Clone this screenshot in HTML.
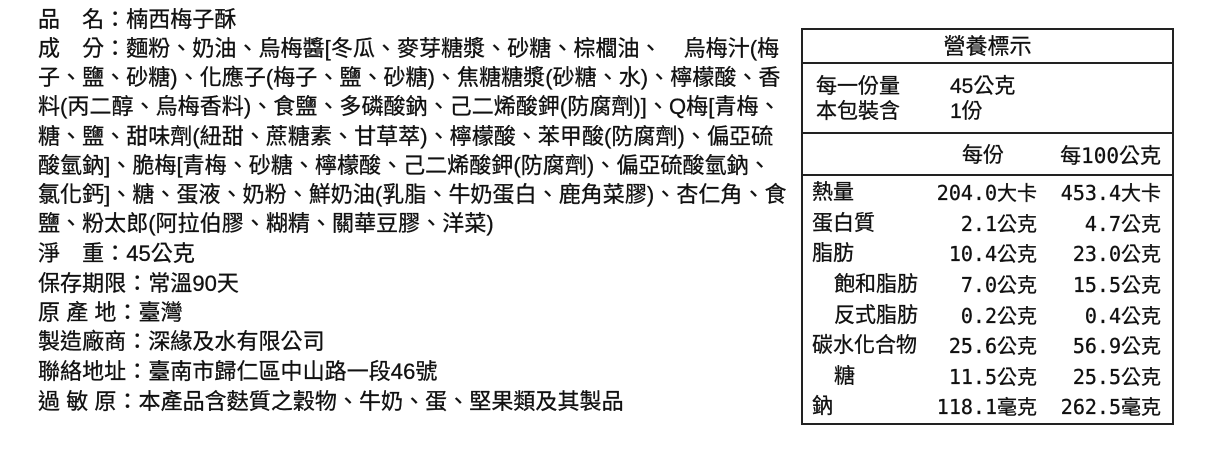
<!DOCTYPE html>
<html><head><meta charset="utf-8"><style>
body{margin:0;width:1211px;height:453px;background:#fff;position:relative;overflow:hidden;font-family:"Liberation Sans","Noto Sans CJK TC",sans-serif;color:#111;-webkit-text-stroke:0.3px #111}
.l{position:absolute;left:38px;font-size:22px;line-height:26px;white-space:nowrap;letter-spacing:0.05px}
.box{position:absolute;left:801px;top:28px;width:369px;height:393px;border:2px solid #222}
.h{position:absolute;left:801px;width:373px;height:2px;background:#222}
.t{position:absolute;font-size:21px;line-height:26px;white-space:nowrap}
.m{font-family:"DejaVu Sans Mono","Noto Sans CJK TC",monospace;font-size:20px}
.r1{position:absolute;right:174px;text-align:right}
.r2{position:absolute;right:50px;text-align:right}
</style></head><body>
<div class="l" style="top:7px">品　名：楠西梅子酥</div>
<div class="l" style="top:36px">成　分：麵粉、奶油、烏梅醬[冬瓜、麥芽糖漿、砂糖、棕櫚油、　烏梅汁(梅</div>
<div class="l" style="top:65px">子、鹽、砂糖)、化應子(梅子、鹽、砂糖)、焦糖糖漿(砂糖、水)、檸檬酸、香</div>
<div class="l" style="top:94px">料(丙二醇、烏梅香料)、食鹽、多磷酸鈉、己二烯酸鉀(防腐劑)]、Q梅[青梅、</div>
<div class="l" style="top:124px">糖、鹽、甜味劑(紐甜、蔗糖素、甘草萃)、檸檬酸、苯甲酸(防腐劑)、偏亞硫</div>
<div class="l" style="top:153px">酸氫鈉]、脆梅[青梅、砂糖、檸檬酸、己二烯酸鉀(防腐劑)、偏亞硫酸氫鈉、</div>
<div class="l" style="top:182px">氯化鈣]、糖、蛋液、奶粉、鮮奶油(乳脂、牛奶蛋白、鹿角菜膠)、杏仁角、食</div>
<div class="l" style="top:211px">鹽、粉太郎(阿拉伯膠、糊精、關華豆膠、洋菜)</div>
<div class="l" style="top:241px">淨　重：45公克</div>
<div class="l" style="top:271px">保存期限：常溫90天</div>
<div class="l" style="top:300px">原 產 地：臺灣</div>
<div class="l" style="top:329px">製造廠商：深緣及水有限公司</div>
<div class="l" style="top:359px">聯絡地址：臺南市歸仁區中山路一段46號</div>
<div class="l" style="top:389px">過 敏 原：本產品含麩質之穀物、牛奶、蛋、堅果類及其製品</div>

<div class="box"></div>
<div class="h" style="top:62px"></div>
<div class="h" style="top:132px"></div>
<div class="h" style="top:174px"></div>
<div class="t" style="left:801px;width:373px;text-align:center;top:34px;font-size:22px">營養標示</div>
<div class="t" style="left:816px;top:74px">每一份量</div><div class="t" style="left:950px;top:74px">45公克</div>
<div class="t" style="left:816px;top:99px">本包裝含</div><div class="t" style="left:950px;top:99px">1份</div>
<div class="t" style="left:962px;top:143px">每份</div>
<div class="t m r2" style="top:143px;font-size:21px">每100公克</div>

<div class="t" style="left:812px;top:180px">熱量</div><div class="t m r1" style="top:180px">204.0大卡</div><div class="t m r2" style="top:180px">453.4大卡</div>
<div class="t" style="left:812px;top:211px">蛋白質</div><div class="t m r1" style="top:211px">2.1公克</div><div class="t m r2" style="top:211px">4.7公克</div>
<div class="t" style="left:812px;top:241px">脂肪</div><div class="t m r1" style="top:241px">10.4公克</div><div class="t m r2" style="top:241px">23.0公克</div>
<div class="t" style="left:834px;top:272px">飽和脂肪</div><div class="t m r1" style="top:272px">7.0公克</div><div class="t m r2" style="top:272px">15.5公克</div>
<div class="t" style="left:834px;top:303px">反式脂肪</div><div class="t m r1" style="top:303px">0.2公克</div><div class="t m r2" style="top:303px">0.4公克</div>
<div class="t" style="left:812px;top:333px">碳水化合物</div><div class="t m r1" style="top:333px">25.6公克</div><div class="t m r2" style="top:333px">56.9公克</div>
<div class="t" style="left:834px;top:364px">糖</div><div class="t m r1" style="top:364px">11.5公克</div><div class="t m r2" style="top:364px">25.5公克</div>
<div class="t" style="left:812px;top:394px">鈉</div><div class="t m r1" style="top:394px">118.1毫克</div><div class="t m r2" style="top:394px">262.5毫克</div>
</body></html>
